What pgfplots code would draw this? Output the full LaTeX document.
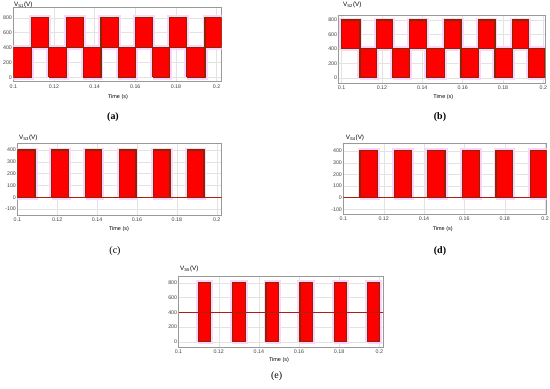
\documentclass[border=0pt]{standalone}
\usepackage{fontspec}
\setmainfont{Liberation Sans}
\newfontfamily\capfont{Liberation Serif}
\usepackage{pgfplots}
\usepackage{pgfplotstable}
\pgfplotsset{compat=1.18}

\definecolor{edge}{RGB}{135,40,5}
\definecolor{halo}{RGB}{255,212,250}
\definecolor{wave}{RGB}{255,0,0}
\definecolor{base}{RGB}{175,30,20}

% each block of five rows is one switching band, nan rows split them
\pgfplotstableread[row sep=\\]{
t v\\
0.1 0\\ 0.109 0\\ 0.109 400\\ 0.1 400\\ 0.1 0\\ nan nan\\
0.109 400\\ 0.1175 400\\ 0.1175 800\\ 0.109 800\\ 0.109 400\\ nan nan\\
0.1175 0\\ 0.1262 0\\ 0.1262 400\\ 0.1175 400\\ 0.1175 0\\ nan nan\\
0.1262 400\\ 0.1344 400\\ 0.1344 800\\ 0.1262 800\\ 0.1262 400\\ nan nan\\
0.1344 0\\ 0.1431 0\\ 0.1431 400\\ 0.1344 400\\ 0.1344 0\\ nan nan\\
0.1431 400\\ 0.1516 400\\ 0.1516 800\\ 0.1431 800\\ 0.1431 400\\ nan nan\\
0.1516 0\\ 0.1602 0\\ 0.1602 400\\ 0.1516 400\\ 0.1516 0\\ nan nan\\
0.1602 400\\ 0.1685 400\\ 0.1685 800\\ 0.1602 800\\ 0.1602 400\\ nan nan\\
0.1685 0\\ 0.1770 0\\ 0.1770 400\\ 0.1685 400\\ 0.1685 0\\ nan nan\\
0.1770 400\\ 0.1852 400\\ 0.1852 800\\ 0.1770 800\\ 0.1770 400\\ nan nan\\
0.1852 0\\ 0.1943 0\\ 0.1943 400\\ 0.1852 400\\ 0.1852 0\\ nan nan\\
0.1943 400\\ 0.2025 400\\ 0.2025 800\\ 0.1943 800\\ 0.1943 400\\
}\dataA

\pgfplotstableread[row sep=\\]{
t v\\
0.1 400\\ 0.1091 400\\ 0.1091 800\\ 0.1 800\\ 0.1 400\\ nan nan\\
0.1091 0\\ 0.1174 0\\ 0.1174 400\\ 0.1091 400\\ 0.1091 0\\ nan nan\\
0.1174 400\\ 0.1253 400\\ 0.1253 800\\ 0.1174 800\\ 0.1174 400\\ nan nan\\
0.1253 0\\ 0.1336 0\\ 0.1336 400\\ 0.1253 400\\ 0.1253 0\\ nan nan\\
0.1336 400\\ 0.1421 400\\ 0.1421 800\\ 0.1336 800\\ 0.1336 400\\ nan nan\\
0.1421 0\\ 0.1509 0\\ 0.1509 400\\ 0.1421 400\\ 0.1421 0\\ nan nan\\
0.1509 400\\ 0.1592 400\\ 0.1592 800\\ 0.1509 800\\ 0.1509 400\\ nan nan\\
0.1592 0\\ 0.1678 0\\ 0.1678 400\\ 0.1592 400\\ 0.1592 0\\ nan nan\\
0.1678 400\\ 0.1760 400\\ 0.1760 800\\ 0.1678 800\\ 0.1678 400\\ nan nan\\
0.1760 0\\ 0.1846 0\\ 0.1846 400\\ 0.1760 400\\ 0.1760 0\\ nan nan\\
0.1846 400\\ 0.1926 400\\ 0.1926 800\\ 0.1846 800\\ 0.1846 400\\ nan nan\\
0.1926 0\\ 0.2008 0\\ 0.2008 400\\ 0.1926 400\\ 0.1926 0\\
}\dataB

\pgfplotstableread[row sep=\\]{
t v\\
0.1 0\\ 0.1089 0\\ 0.1089 400\\ 0.1 400\\ 0.1 0\\ nan nan\\
0.1172 0\\ 0.1256 0\\ 0.1256 400\\ 0.1172 400\\ 0.1172 0\\ nan nan\\
0.1343 0\\ 0.1423 0\\ 0.1423 400\\ 0.1343 400\\ 0.1343 0\\ nan nan\\
0.1512 0\\ 0.1595 0\\ 0.1595 400\\ 0.1512 400\\ 0.1512 0\\ nan nan\\
0.1682 0\\ 0.1766 0\\ 0.1766 400\\ 0.1682 400\\ 0.1682 0\\ nan nan\\
0.1853 0\\ 0.1936 0\\ 0.1936 400\\ 0.1853 400\\ 0.1853 0\\
}\dataC

\pgfplotstableread[row sep=\\]{
t v\\
0.1083 0\\ 0.1170 0\\ 0.1170 405\\ 0.1083 405\\ 0.1083 0\\ nan nan\\
0.1253 0\\ 0.1339 0\\ 0.1339 405\\ 0.1253 405\\ 0.1253 0\\ nan nan\\
0.1418 0\\ 0.1504 0\\ 0.1504 405\\ 0.1418 405\\ 0.1418 0\\ nan nan\\
0.1590 0\\ 0.1674 0\\ 0.1674 405\\ 0.1590 405\\ 0.1590 0\\ nan nan\\
0.1757 0\\ 0.1840 0\\ 0.1840 405\\ 0.1757 405\\ 0.1757 0\\ nan nan\\
0.1926 0\\ 0.2008 0\\ 0.2008 405\\ 0.1926 405\\ 0.1926 0\\
}\dataD

\pgfplotstableread[row sep=\\]{
t v\\
0.1098 0\\ 0.1160 0\\ 0.1160 805\\ 0.1098 805\\ 0.1098 0\\ nan nan\\
0.1268 0\\ 0.1332 0\\ 0.1332 805\\ 0.1268 805\\ 0.1268 0\\ nan nan\\
0.1436 0\\ 0.1499 0\\ 0.1499 805\\ 0.1436 805\\ 0.1436 0\\ nan nan\\
0.1605 0\\ 0.1668 0\\ 0.1668 805\\ 0.1605 805\\ 0.1605 0\\ nan nan\\
0.1775 0\\ 0.1836 0\\ 0.1836 805\\ 0.1775 805\\ 0.1775 0\\ nan nan\\
0.1942 0\\ 0.2002 0\\ 0.2002 805\\ 0.1942 805\\ 0.1942 0\\
}\dataE

\pgfplotsset{
  panel/.style={
    scale only axis,
    anchor=south west,
    axis line style={gray!80, line width=0.5bp},
    major tick length=0pt,
    grid=major,
    major grid style={gray!22, line width=0.3bp},
    tick label style={font=\fontsize{5.3}{6}\selectfont, text=black!75},
    /pgf/number format/assume math mode=true,
    xtick={0.1,0.12,0.14,0.16,0.18,0.2},
    xticklabel style={/pgf/number format/fixed, /pgf/number format/precision=2,
      inner sep=0.5bp, yshift=-2.2bp},
    yticklabel style={inner sep=1.2bp},
    scaled x ticks=false,
    unbounded coords=jump,
    clip=true,
  },
  halo/.style={draw=halo, line width=5bp, no markers},
  band/.style={fill=wave, draw=edge, line width=1.2bp, no markers},
}

\newcommand{\vlab}[1]{\fontsize{6.3}{7}\selectfont V\textsubscript{\fontsize{4.2}{5}\selectfont #1}(V)}
\newcommand{\tlab}{\fontsize{5.5}{6}\selectfont Time (s)}

\begin{document}
\begin{tikzpicture}
\path[use as bounding box] (0,0) rectangle (550bp,389bp);

% (a)
\begin{axis}[panel, at={(13.3bp,307.3bp)}, width=208.4bp, height=74.4bp,
  xmin=0.1, xmax=0.2025, ymin=-60, ymax=940, ytick={0,200,400,600,800}]
\addplot[halo] table {\dataA};
\addplot[band] table {\dataA};
\end{axis}

% (b)
\begin{axis}[panel, at={(338.5bp,305.7bp)}, width=206.5bp, height=68.3bp,
  xmin=0.0985, xmax=0.2008, ymin=-78, ymax=870, ytick={0,200,400,600,800}]
\addplot[halo] table {\dataB};
\addplot[band] table {\dataB};
\end{axis}

% (c)
\begin{axis}[panel, at={(17.3bp,174bp)}, width=204.4bp, height=71.7bp,
  xmin=0.1, xmax=0.2025, ymin=-151, ymax=457, ytick={-100,0,100,200,300,400}]
\addplot[halo] table {\dataC};
\addplot[base, line width=0.6bp] coordinates {(0.1,0) (0.2025,0)};
\addplot[band] table {\dataC};
\end{axis}

% (d)
\begin{axis}[panel, at={(343.3bp,174.7bp)}, width=203.4bp, height=71bp,
  xmin=0.1, xmax=0.2008, ymin=-143, ymax=466, ytick={-100,0,100,200,300,400}]
\addplot[halo] table {\dataD};
\addplot[base, line width=0.6bp] coordinates {(0.1,0) (0.2008,0)};
\addplot[band] table {\dataD};
\end{axis}

% (e)
\begin{axis}[panel, at={(178.5bp,41.7bp)}, width=204.8bp, height=71.3bp,
  xmin=0.1, xmax=0.202, ymin=-76, ymax=891, ytick={0,200,400,600,800}]
\addplot[halo] table {\dataE};
\addplot[band] table {\dataE};
\addplot[base, line width=0.6bp] coordinates {(0.1,400) (0.202,400)};
\end{axis}

% axis names and panel letters
\node[anchor=west, inner sep=0pt] at (14bp,384bp) {\vlab{S1}};
\node[anchor=west, inner sep=0pt] at (343bp,383.7bp) {\vlab{S2}};
\node[anchor=west, inner sep=0pt] at (19bp,251bp) {\vlab{S3}};
\node[anchor=west, inner sep=0pt] at (345.7bp,251bp) {\vlab{S4}};
\node[anchor=west, inner sep=0pt] at (180bp,120bp) {\vlab{S5}};

\node at (118bp,292.3bp) {\tlab};
\node at (443.3bp,292.3bp) {\tlab};
\node at (119bp,160bp) {\tlab};
\node at (442.7bp,160.3bp) {\tlab};
\node at (279bp,29bp) {\tlab};

\node at (113bp,272bp) {\capfont\fontsize{10}{12}\selectfont\bfseries (a)};
\node at (440bp,272.3bp) {\capfont\fontsize{10}{12}\selectfont\bfseries (b)};
\node at (115bp,138bp) {\capfont\fontsize{10}{12}\selectfont (c)};
\node at (440bp,138bp) {\capfont\fontsize{10}{12}\selectfont\bfseries (d)};
\node at (276.7bp,13bp) {\capfont\fontsize{10}{12}\selectfont (e)};
\end{tikzpicture}
\end{document}
